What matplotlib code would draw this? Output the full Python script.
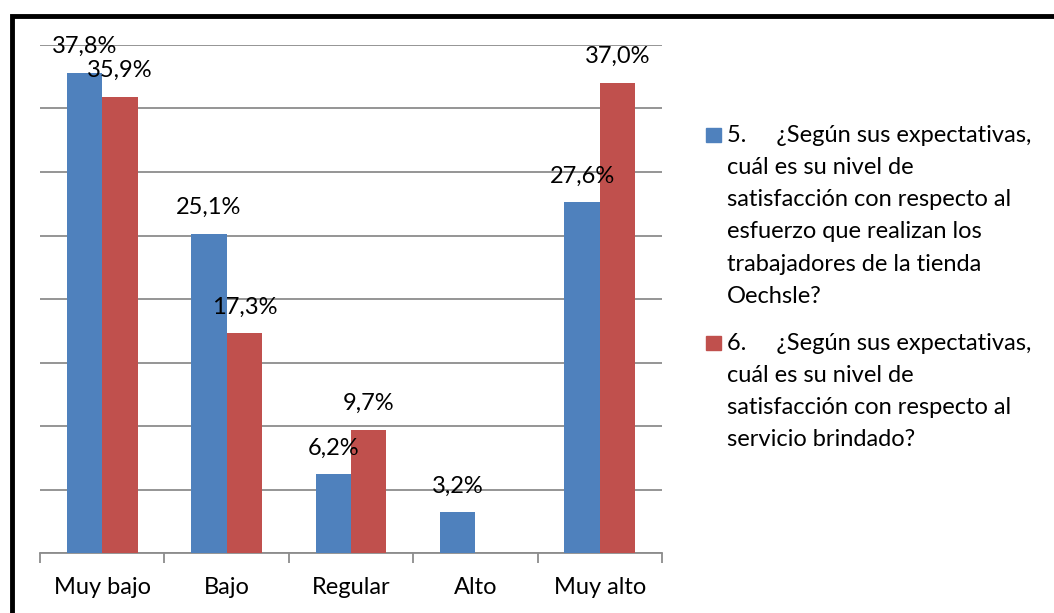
import matplotlib
matplotlib.use("Agg")
import matplotlib.pyplot as plt
from matplotlib.patches import Rectangle
import numpy as np

categories = ["Muy bajo", "Bajo", "Regular", "Alto", "Muy alto"]
serie5 = [37.8, 25.1, 6.2, 3.2, 27.6]
serie6 = [35.9, 17.3, 9.7, 0.0, 37.0]
labels5 = ["37,8%", "25,1%", "6,2%", "3,2%", "27,6%"]
labels6 = ["35,9%", "17,3%", "9,7%", "", "37,0%"]
legend5 = ["5.     ¿Según sus expectativas,", "cuál es su nivel de",
           "satisfacción con respecto al", "esfuerzo que realizan los",
           "trabajadores de la tienda", "Oechsle?"]
legend6 = ["6.     ¿Según sus expectativas,", "cuál es su nivel de",
           "satisfacción con respecto al", "servicio brindado?"]
colors = ["#4F81BD", "#C0504D"]

plt.rcParams["font.family"] = ["Lato", "DejaVu Sans"]
FS = 17

fig = plt.figure(figsize=(10.54, 6.13), dpi=100)
W, H = 1054, 613
ax = fig.add_axes([40 / W, 1 - 553 / H, 622 / W, 508 / H])

x = np.arange(len(categories))
w = 0.285
b5 = ax.bar(x - w / 2, serie5, w, color=colors[0], zorder=3)
b6 = ax.bar(x + w / 2, serie6, w, color=colors[1], zorder=3)

for bars, labs in ((b5, labels5), (b6, labels6)):
    for bar, lab in zip(bars, labs):
        if not lab:
            continue
        ax.annotate(lab, (bar.get_x() + bar.get_width() / 2, bar.get_height()),
                    xytext=(0, 19), textcoords="offset points",
                    ha="center", va="center", fontsize=FS, zorder=4)

ax.set_xlim(-0.5, len(categories) - 0.5)
ax.set_ylim(0, 40)
ax.set_yticks(np.arange(0, 41, 5))
ax.set_yticklabels([])
ax.tick_params(axis="y", length=0)
ax.grid(axis="y", color="#8c8c8c", linewidth=1.3, zorder=0)
ax.set_xticks(x)
ax.set_xticklabels(categories, fontsize=FS)
ax.set_xticks(np.arange(-0.5, len(categories), 1), minor=True)
ax.tick_params(axis="x", which="major", length=0, pad=17)
ax.tick_params(axis="x", which="minor", length=7, color="#8c8c8c", width=1.3)
for s in ("top", "right", "left"):
    ax.spines[s].set_visible(False)
ax.spines["bottom"].set_color("#8c8c8c")
ax.spines["bottom"].set_linewidth(1.3)

# legend drawn by hand (wrapped entries)
line_h = 32.3
for lines, y0, col in ((legend5, 135, colors[0]), (legend6, 343, colors[1])):
    fig.patches.append(Rectangle((706 / W, 1 - (y0 + 7) / H), 15 / W, 14 / H,
                                 transform=fig.transFigure, color=col))
    for i, ln in enumerate(lines):
        fig.text(727 / W, 1 - (y0 + i * line_h) / H, ln, fontsize=FS,
                 ha="left", va="center")

fig.patches.append(Rectangle((12 / W, -0.05), 1.1, 1 - 16 / H + 0.05,
                             transform=fig.transFigure, fill=False,
                             edgecolor="black", linewidth=3.5))

fig.savefig("out.png", dpi=100)
